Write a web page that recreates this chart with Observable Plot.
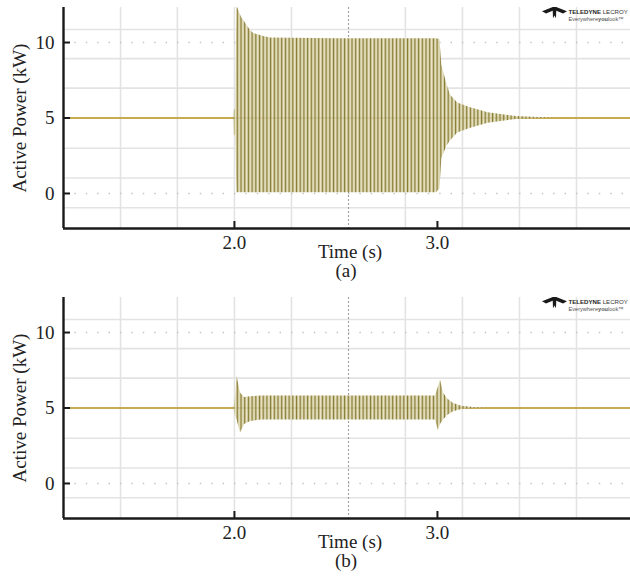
<!DOCTYPE html>
<html><head><meta charset="utf-8">
<script src="https://cdn.jsdelivr.net/npm/d3@7"></script>
<script src="https://cdn.jsdelivr.net/npm/@observablehq/plot@0.6"></script>
<style>body{margin:0;background:#fff} #chart svg{display:block}</style>
</head><body><div id="chart"></div>
<script>
// ---- data ----
const timeDomain = [1.158, 3.951];
const powerDomain = [-2.32, 12.32];
const xTicks = [2.0, 3.0];
const yTicks = [0, 5, 10];
const gridTimes = [1.439, 1.719, 2.0, 2.281, 2.842, 3.123, 3.404, 3.685];
const centerTime = [2.562];
const gridPowers = [-0.95, 1.03, 3.0, 5, 6.98, 8.93, 10.86];
const dotLevels = [0, 10];
const baseline = [5];

// panel (a): envelope of the oscillating active power
const tA  = [1.158, 1.999, 2.0, 2.006, 2.012, 2.016, 2.027, 2.038, 2.059, 2.079, 2.095, 2.12, 2.144, 2.177, 2.5, 2.995, 3.012, 3.022, 3.045, 3.065, 3.1, 3.16, 3.25, 3.39, 3.5, 3.6, 3.951];
const hiA = [5, 5, 5.6, 5.5, 12.3, 12.3, 11.9, 11.6, 11.2, 10.8, 10.6, 10.5, 10.4, 10.3, 10.25, 10.25, 10.2, 8.5, 7.3, 6.5, 6.0, 5.7, 5.35, 5.1, 5.03, 5, 5];
const loA = [5, 5, 3.8, 3.9, 0.1, 0.05, 0.05, 0.05, 0.05, 0.05, 0.05, 0.05, 0.05, 0.05, 0.05, 0.05, 0.3, 2.3, 3.1, 3.5, 4.0, 4.3, 4.65, 4.9, 4.97, 5, 5];

// panel (b)
const tB  = [1.158, 1.999, 2.004, 2.013, 2.03, 2.05, 2.08, 2.13, 2.5, 2.99, 3.005, 3.015, 3.03, 3.05, 3.08, 3.12, 3.18, 3.25, 3.951];
const hiB = [5, 5, 5.6, 7.1, 6.0, 5.7, 5.75, 5.8, 5.8, 5.8, 6.4, 6.85, 6.0, 5.6, 5.3, 5.12, 5.04, 5, 5];
const loB = [5, 5, 4.5, 4.2, 3.35, 3.9, 4.1, 4.2, 4.2, 4.2, 3.5, 3.9, 4.2, 4.5, 4.75, 4.9, 4.96, 5, 5];

const serif = "'Liberation Serif', 'Times New Roman', serif";
const sans = "'Liberation Sans', Arial, sans-serif";

function panel(t, hi, lo, id, tag) {
  const env = t.map((d, i) => ({t: d, hi: hi[i], lo: lo[i]}));
  const W = 630, H = 290, mt = 7, mb = 62, ml = 63, mr = 0;
  const fw = W - ml - mr, fh = H - mt - mb;
  const plot = Plot.plot({
    width: W, height: H,
    marginTop: mt, marginBottom: mb, marginLeft: ml, marginRight: mr,
    style: {background: "#fff", fontFamily: serif},
    x: {domain: timeDomain},
    y: {domain: powerDomain},
    marks: [
      Plot.ruleX(gridTimes, {stroke: "#e3e3e3", strokeWidth: 1.6}),
      Plot.ruleY(gridPowers, {stroke: "#e3e3e3", strokeWidth: 1.6}),
      Plot.ruleY(dotLevels, {stroke: "#c4c4c4", strokeWidth: 1.3, strokeDasharray: "1.4,10"}),
      Plot.ruleX(centerTime, {stroke: "#a0a0a0", strokeWidth: 1.1, strokeDasharray: "2,2"}),
      Plot.ruleY(baseline, {stroke: "#c9a227", strokeWidth: 1.6}),
      Plot.areaY(env, {x: "t", y1: "lo", y2: "hi", fill: `url(#${id})`, clip: true}),
      Plot.ruleY(baseline, {stroke: "#8a7a2a", strokeWidth: 1, strokeOpacity: 0.3}),
      Plot.ruleX([timeDomain[0]], {stroke: "#1a1a1a", strokeWidth: 2.4}),
      Plot.ruleY([powerDomain[0]], {stroke: "#1a1a1a", strokeWidth: 2.4}),
      Plot.tickY(yTicks, {y: d => d, stroke: "#1a1a1a", strokeWidth: 2, insetRight: fw - 7}),
      Plot.tickX(xTicks, {x: d => d, stroke: "#1a1a1a", strokeWidth: 2, insetTop: fh - 7}),
      Plot.axisY(yTicks, {tickSize: 0, tickPadding: 9, fontSize: 19, fontFamily: serif, fill: "#222", label: null}),
      Plot.axisX(xTicks, {tickSize: 0, tickPadding: 7, fontSize: 19, fontFamily: serif, fill: "#222", label: null, tickFormat: d3.format(".1f")}),
      Plot.text(["Active Power (kW)"], {frameAnchor: "left", textAnchor: "middle", dx: -44, rotate: -90, fontSize: 19, fontFamily: serif, fill: "#222"}),
      Plot.text(["Time (s)"], {frameAnchor: "bottom", dx: 3, dy: 29, fontSize: 19, fontFamily: serif, fill: "#222"}),
      Plot.text([tag], {frameAnchor: "bottom", dx: -1, dy: 48, fontSize: 19, fontFamily: serif, fill: "#222"}),
      Plot.text(["TELEDYNE LECROY"], {frameAnchor: "top-right", dx: -62, dy: 2, textAnchor: "start", fontSize: 6.1, fontFamily: sans, fill: "#1a1a1a"}),
      Plot.text(["Everywhereyoulook™"], {frameAnchor: "top-right", dx: -62, dy: 10, textAnchor: "start", fontSize: 5.6, fontFamily: sans, fill: "#555"})
    ]
  });
  const svg = d3.select(plot);
  svg.insert("defs", ":first-child").html(
    `<pattern id="${id}" patternUnits="userSpaceOnUse" width="3.7" height="10">
       <rect width="3.7" height="10" fill="#c6bf8e"/>
       <rect x="0" width="0.9" height="10" fill="#857832"/>
       <rect x="1.9" width="1.2" height="10" fill="#ece8ce"/>
     </pattern>`);
  // logo texts: mixed weights inside one text element
  svg.selectAll("text").each(function() {
    const s = this.textContent, el = d3.select(this);
    if (s === "TELEDYNE LECROY") {
      el.text(null);
      el.append("tspan").attr("font-weight", "bold").text("TELEDYNE");
      el.append("tspan").attr("fill", "#333").text(" LECROY");
    } else if (s === "Everywhereyoulook™") {
      el.text(null);
      el.append("tspan").text("Everywhere");
      el.append("tspan").attr("font-weight", "bold").text("you");
      el.append("tspan").text("look™");
    }
  });
  // Teledyne logo glyph (decoration)
  svg.append("g").attr("transform", `translate(542,${mt})`).attr("fill", "#1a1a1a")
    .html(`<path d="M0,4.2 L10.8,0 L11.8,3.2 L4,6.4 Z"/>
           <path d="M25,4.2 L14.2,0 L13.2,3.2 L21,6.4 Z"/>
           <path d="M10.6,0 L14.4,0 L14,11.2 L12.5,8.4 L11,11.2 Z"/>`);
  return plot;
}

const root = document.getElementById("chart");
root.append(panel(tA, hiA, loA, "stripesA", "(a)"));
root.append(panel(tB, hiB, loB, "stripesB", "(b)"));
</script>
</body></html>
